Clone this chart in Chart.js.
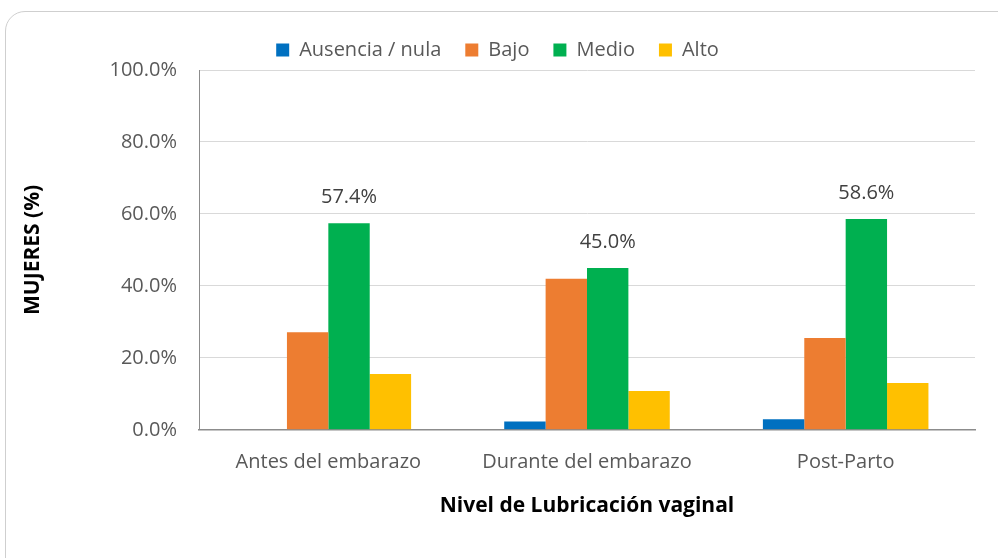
<!DOCTYPE html>
<html>
<head>
<meta charset="utf-8">
<script src="https://cdn.jsdelivr.net/npm/chart.js@4"></script>
<style>
  html, body { margin: 0; padding: 0; background: #fff; overflow: hidden; }
  #wrap { position: relative; width: 998px; height: 558px; }
  #frame {
    position: absolute; left: 5px; top: 11px; width: 1020px; height: 580px;
    border: 1.5px solid #cfcfcf; border-radius: 20px; box-sizing: border-box;
  }
  canvas { position: absolute; left: 0; top: 0; }
</style>
</head>
<body>
<div id="wrap">
  <div id="frame"></div>
  <canvas id="chart" width="998" height="558"></canvas>
</div>
<script>
// categories and series
const categories = ["Antes del embarazo", "Durante del embarazo", "Post-Parto"];
const seriesNames = ["Ausencia / nula", "Bajo", "Medio", "Alto"];
const ausencia = [0, 2.3, 2.9];
const bajo = [27.1, 42.0, 25.5];
const medio = [57.4, 45.0, 58.6];
const alto = [15.5, 10.8, 13.0];
const yTicks = [0, 20, 40, 60, 80, 100];

const colors = ["#0070C0", "#ED7D31", "#00B050", "#FFC000"];
const FONT = "'Open Sans', 'Noto Sans', sans-serif";

// draws value labels above the "Medio" bars only
const medioLabels = {
  id: "medioLabels",
  afterDatasetsDraw(chart) {
    const ctx = chart.ctx;
    const meta = chart.getDatasetMeta(2);
    ctx.save();
    ctx.font = "20px " + FONT;
    ctx.fillStyle = "#404040";
    ctx.textAlign = "center";
    ctx.textBaseline = "middle";
    meta.data.forEach((bar, i) => {
      ctx.fillText(medio[i].toFixed(1) + "%", bar.x, bar.y - 26);
    });
    ctx.restore();
  }
};

new Chart(document.getElementById("chart").getContext("2d"), {
  type: "bar",
  data: {
    labels: categories,
    datasets: [ausencia, bajo, medio, alto].map((d, i) => ({
      label: seriesNames[i],
      data: d,
      backgroundColor: colors[i],
      categoryPercentage: 0.64,
      barPercentage: 1.0
    }))
  },
  options: {
    responsive: false,
    animation: false,
    layout: { padding: { top: 16, left: 20, right: 23, bottom: 35 } },
    scales: {
      x: {
        grid: { display: false, drawTicks: false },
        border: { color: "#8c8c8c", width: 1.5 },
        ticks: { color: "#595959", font: { family: FONT, size: 20 }, padding: 20 },
        title: {
          display: true, text: "Nivel de Lubricación vaginal", color: "#000",
          font: { family: FONT, size: 21, weight: "bold" }, padding: { top: 0, bottom: 4 }
        }
      },
      y: {
        min: 0, max: 100,
        afterBuildTicks(scale) { scale.ticks = yTicks.map(v => ({ value: v })); },
        afterFit(scale) { scale.width = 179; },
        grid: { color: "#d9d9d9", drawTicks: false },
        border: { color: "#8c8c8c", width: 1 },
        ticks: {
          color: "#595959", font: { family: FONT, size: 20 }, padding: 22,
          callback: v => v.toFixed(1) + "%"
        },
        title: {
          display: true, text: "MUJERES (%)", color: "#000",
          font: { family: FONT, size: 21, weight: "bold" }, padding: { top: 0, bottom: 0 }
        }
      }
    },
    plugins: {
      legend: {
        position: "top",
        labels: {
          color: "#595959", font: { family: FONT, size: 20 },
          boxWidth: 13, boxHeight: 13, padding: 24
        }
      },
      tooltip: { enabled: false }
    }
  },
  plugins: [medioLabels]
});
</script>
</body>
</html>
